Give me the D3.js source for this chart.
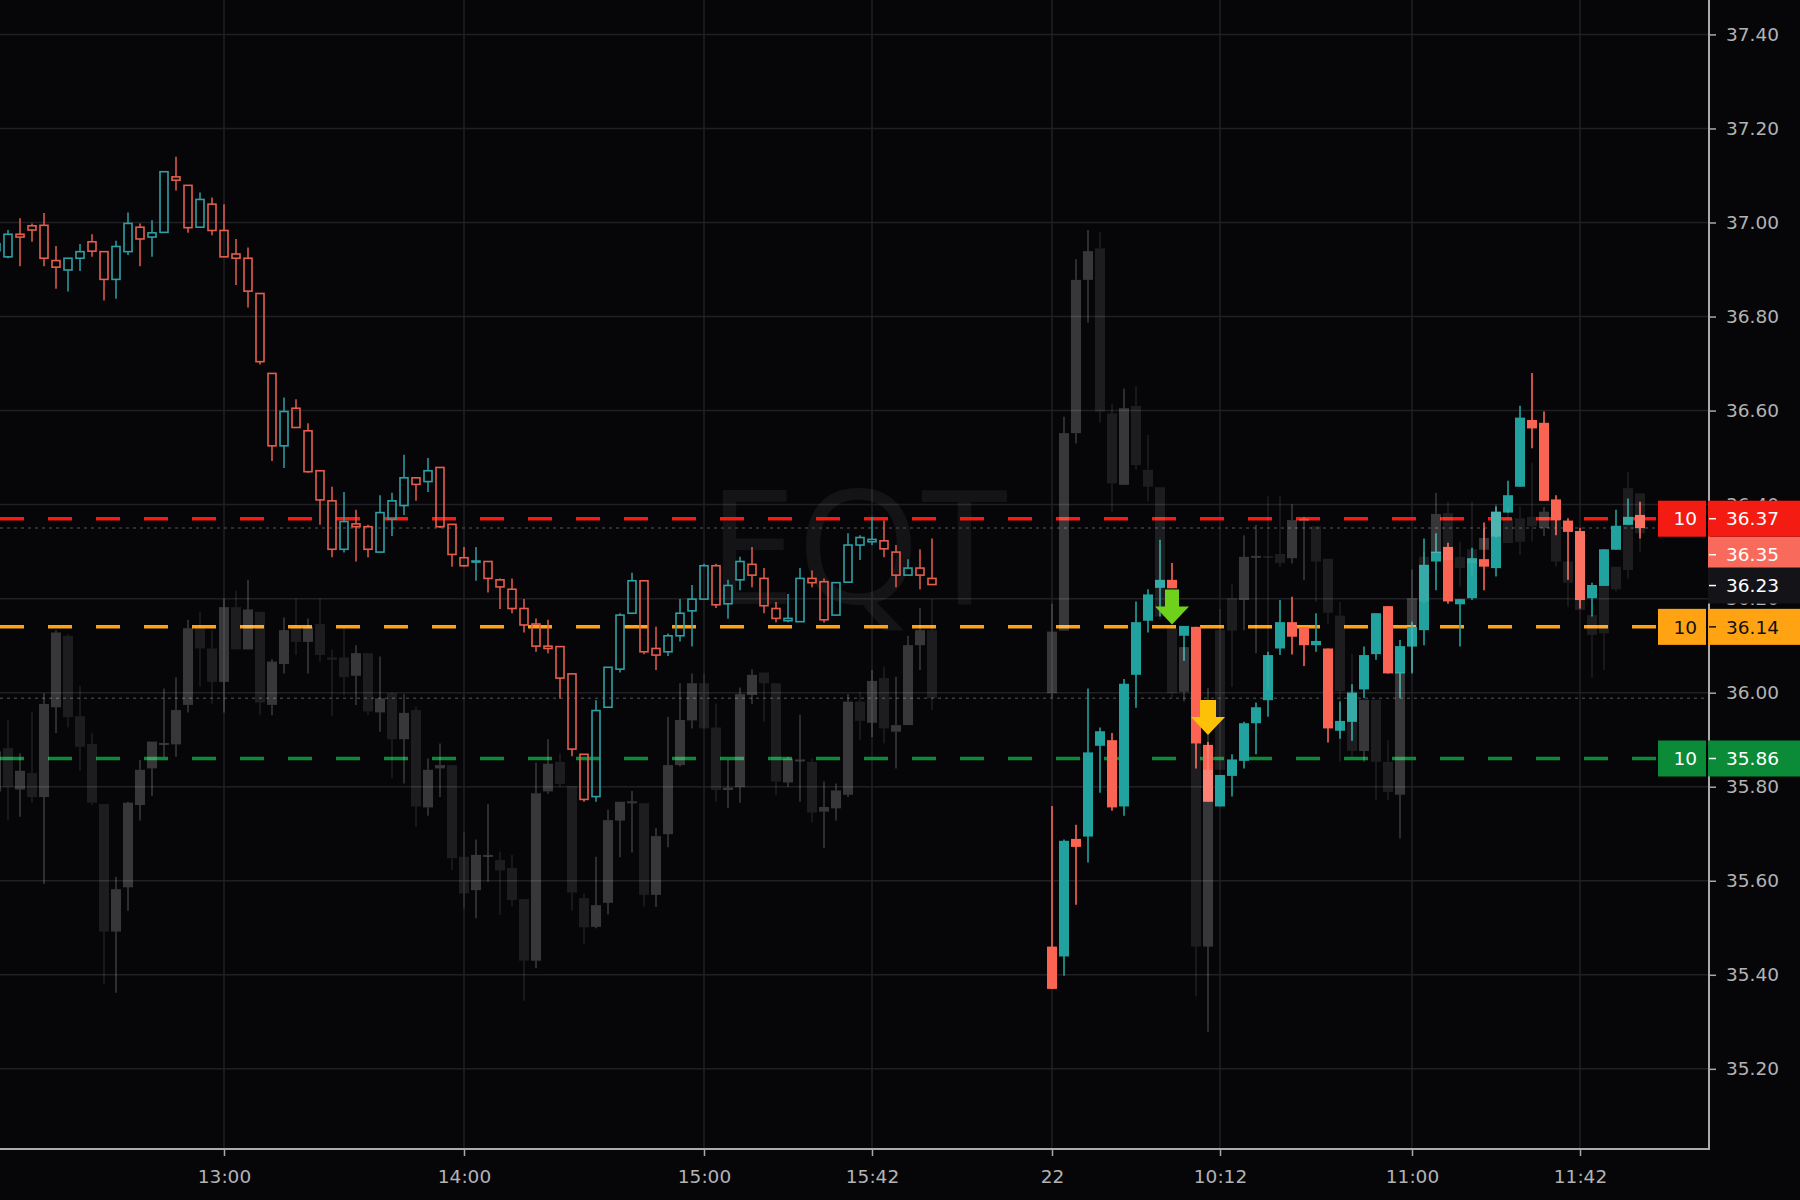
<!DOCTYPE html>
<html><head><meta charset="utf-8">
<script src="https://cdn.jsdelivr.net/npm/d3@7"></script>
<style>html,body{margin:0;padding:0;background:#060608;overflow:hidden}svg{display:block}</style>
</head><body>
<script>
// ---------------- DATA ----------------
const symbol = "EQT";
const day1Start = "12:03", day1Count = 79;   // 3-minute bars, previous session
const day2Start = "09:30", day2Count = 50;   // 3-minute bars, current session (22nd)
const sessionGapSlots = 9;

const mainOpen = [
36.94,36.927,36.975,36.993,36.994,36.919,36.899,36.924,36.959,36.938,
36.879,36.938,36.990,36.969,36.979,37.097,37.079,36.990,37.039,36.983,
36.933,36.924,36.849,36.679,36.525,36.605,36.557,36.472,36.408,36.305,
36.359,36.353,36.299,36.369,36.398,36.457,36.449,36.479,36.358,36.287,
36.278,36.279,36.240,36.220,36.179,36.146,36.099,36.098,36.040,35.869,
35.779,35.969,36.050,36.169,36.238,36.094,36.087,36.121,36.174,36.199,
36.270,36.189,36.240,36.273,36.243,36.179,36.153,36.151,36.243,36.236,
36.165,36.235,36.314,36.321,36.323,36.299,36.250,36.265,36.243,
35.460,35.439,35.689,35.694,35.887,35.899,35.758,36.038,36.153,36.223,
36.240,36.121,36.140,35.889,35.758,35.823,35.855,35.935,35.984,36.094,
36.150,36.139,36.101,36.094,35.919,35.938,36.007,36.082,36.184,36.041,
36.098,36.133,36.279,36.310,36.188,36.201,36.284,36.265,36.383,36.438,
36.580,36.574,36.411,36.366,36.344,36.201,36.227,36.304,36.357,36.378];
const mainHigh = [
36.97,36.984,37.009,36.998,37.020,36.950,36.924,36.954,36.975,36.938,
36.961,37.021,36.998,37.005,37.108,37.140,37.079,37.064,37.053,37.039,
36.965,36.947,36.849,36.679,36.628,36.624,36.573,36.472,36.438,36.427,
36.389,36.357,36.420,36.425,36.506,36.457,36.499,36.479,36.358,36.310,
36.310,36.279,36.243,36.243,36.199,36.158,36.155,36.098,36.042,35.869,
35.984,36.054,36.169,36.255,36.238,36.140,36.126,36.199,36.229,36.274,
36.274,36.240,36.289,36.310,36.265,36.193,36.210,36.265,36.260,36.243,
36.234,36.339,36.335,36.374,36.366,36.314,36.284,36.305,36.328,
35.759,35.688,35.719,36.009,35.926,35.914,36.029,36.194,36.220,36.325,
36.276,36.142,36.140,35.895,35.825,35.869,35.938,35.979,36.087,36.197,
36.204,36.139,36.169,36.094,35.981,36.018,36.098,36.169,36.184,36.112,
36.151,36.328,36.339,36.319,36.199,36.308,36.362,36.396,36.451,36.610,
36.680,36.598,36.420,36.371,36.351,36.234,36.305,36.389,36.413,36.406];
const mainLow = [
36.92,36.924,36.907,36.959,36.907,36.859,36.853,36.897,36.927,36.834,
36.838,36.931,36.907,36.927,36.979,37.068,36.978,36.990,36.973,36.927,
36.867,36.819,36.698,36.493,36.478,36.564,36.468,36.357,36.288,36.298,
36.279,36.288,36.299,36.333,36.378,36.408,36.427,36.350,36.268,36.268,
36.238,36.213,36.178,36.169,36.128,36.087,36.084,35.987,35.865,35.768,
35.768,35.969,36.043,36.169,36.082,36.048,36.078,36.109,36.098,36.199,
36.180,36.157,36.218,36.224,36.169,36.150,36.150,36.151,36.224,36.149,
36.165,36.235,36.282,36.314,36.288,36.224,36.250,36.220,36.229,
35.370,35.398,35.549,35.639,35.787,35.749,35.738,35.968,36.128,36.162,
36.222,36.068,35.839,35.768,35.758,35.779,35.839,35.869,35.949,36.080,
36.081,36.057,36.087,35.894,35.902,35.898,35.988,36.070,36.041,35.988,
36.041,36.101,36.218,36.189,36.098,36.197,36.218,36.247,36.383,36.438,
36.520,36.408,36.335,36.240,36.179,36.162,36.227,36.304,36.357,36.328];
const mainClose = [
36.955,36.975,36.969,36.984,36.924,36.905,36.924,36.938,36.939,36.879,
36.949,36.998,36.965,36.978,37.108,37.090,36.989,37.049,36.983,36.927,
36.924,36.854,36.704,36.525,36.598,36.564,36.470,36.410,36.305,36.364,
36.353,36.305,36.383,36.408,36.457,36.443,36.472,36.353,36.294,36.270,
36.280,36.243,36.225,36.179,36.144,36.099,36.094,36.031,35.880,35.773,
35.962,36.054,36.165,36.238,36.087,36.080,36.121,36.169,36.199,36.270,
36.187,36.228,36.279,36.250,36.185,36.158,36.158,36.243,36.234,36.155,
36.234,36.314,36.330,36.326,36.306,36.250,36.265,36.250,36.230,
35.370,35.685,35.672,35.873,35.918,35.756,36.019,36.150,36.209,36.240,
36.222,36.142,35.892,35.768,35.825,35.858,35.935,35.969,36.080,36.150,
36.119,36.101,36.110,35.924,35.940,36.000,36.080,36.169,36.041,36.099,
36.140,36.272,36.300,36.194,36.199,36.286,36.268,36.385,36.420,36.585,
36.562,36.408,36.367,36.342,36.197,36.229,36.305,36.355,36.374,36.350];

// overlaid comparison series (grey ghost candles)
const compOpen = [
35.79,35.882,35.794,35.829,35.778,35.969,36.121,35.950,35.891,35.763,
35.492,35.586,35.761,35.839,35.889,35.890,35.974,36.137,36.094,36.023,
36.182,36.092,36.172,35.974,36.061,36.140,36.108,36.146,36.075,36.075,
36.036,36.084,35.958,35.999,35.901,35.963,35.756,35.839,35.846,35.651,
35.580,35.652,35.644,35.627,35.561,35.430,35.790,35.853,35.801,35.563,
35.502,35.553,35.728,35.765,35.765,35.570,35.699,35.846,35.941,36.020,
35.926,35.793,35.799,35.995,36.043,36.020,35.809,35.855,35.853,35.747,
35.754,35.783,35.981,35.936,36.031,35.917,35.931,36.101,36.133,
35.999,36.132,36.552,36.878,36.945,36.594,36.442,36.610,36.474,36.437,
36.137,36.002,35.892,35.460,36.133,36.201,36.197,36.287,36.291,36.295,
36.286,36.365,36.354,36.285,36.164,36.003,35.876,35.985,35.853,35.783,
36.140,36.289,36.297,36.382,36.289,36.305,36.304,36.332,36.371,36.371,
36.374,36.350,36.367,36.279,36.343,36.165,36.227,36.268,36.435,36.424];
const compHigh = [
35.90,35.942,35.871,35.960,35.999,36.133,36.125,36.014,35.915,35.763,
35.608,35.768,35.857,35.896,36.009,36.033,36.155,36.172,36.133,36.201,
36.217,36.240,36.172,36.071,36.160,36.201,36.158,36.201,36.092,36.137,
36.101,36.084,36.077,36.002,35.997,35.970,35.860,35.892,35.846,35.704,
35.688,35.763,35.662,35.655,35.561,35.851,35.901,35.871,35.801,35.573,
35.651,35.751,35.768,35.791,35.765,35.712,35.949,36.020,36.041,36.041,
35.977,35.857,36.011,36.050,36.043,36.020,35.864,35.953,35.860,35.811,
35.807,35.997,36.002,36.048,36.055,36.034,36.121,36.180,36.199,
36.189,36.587,36.922,36.984,36.979,36.614,36.647,36.652,36.548,36.437,
36.140,36.097,35.892,36.010,36.178,36.231,36.335,36.357,36.418,36.418,
36.401,36.374,36.354,36.285,36.193,36.083,35.985,35.985,35.899,36.043,
36.262,36.300,36.425,36.406,36.321,36.406,36.350,36.400,36.393,36.396,
36.489,36.395,36.367,36.279,36.343,36.165,36.227,36.268,36.470,36.424];
const compLow = [
35.76,35.729,35.736,35.766,35.593,35.914,35.926,35.834,35.761,35.381,
35.362,35.536,35.728,35.780,35.864,35.864,35.958,36.013,35.976,35.958,
36.092,36.092,35.952,35.952,36.041,36.080,36.041,36.066,35.950,35.995,
35.974,35.952,35.917,35.818,35.807,35.715,35.738,35.778,35.623,35.541,
35.520,35.598,35.527,35.546,35.345,35.414,35.785,35.799,35.536,35.466,
35.499,35.529,35.650,35.660,35.545,35.544,35.671,35.843,35.924,35.924,
35.768,35.754,35.766,35.976,35.938,35.782,35.800,35.768,35.724,35.669,
35.728,35.778,35.899,35.906,35.892,35.839,35.931,36.048,35.963,
35.988,36.132,36.530,36.787,36.574,36.383,36.442,36.474,36.406,36.155,
35.990,35.981,35.354,35.279,35.836,36.012,36.133,36.084,36.006,36.268,
36.275,36.239,36.193,36.147,35.853,35.864,35.853,35.772,35.772,35.690,
36.043,36.190,36.297,36.282,36.226,36.247,36.304,36.330,36.318,36.293,
36.321,36.333,36.268,36.183,36.176,36.031,36.048,36.215,36.243,36.300];
const compClose = [
35.875,35.800,35.834,35.778,35.976,36.128,35.948,35.885,35.766,35.492,
35.582,35.766,35.836,35.896,35.893,35.963,36.137,36.094,36.023,36.182,
36.092,36.177,35.979,36.066,36.133,36.108,36.140,36.080,36.070,36.033,
36.084,35.960,35.988,35.901,35.957,35.758,35.836,35.846,35.648,35.573,
35.655,35.655,35.622,35.559,35.430,35.786,35.849,35.806,35.575,35.501,
35.548,35.729,35.768,35.769,35.570,35.695,35.846,35.942,36.020,35.924,
35.793,35.798,35.997,36.038,36.020,35.811,35.860,35.858,35.745,35.757,
35.792,35.981,35.940,36.025,35.924,35.931,36.101,36.133,35.988,
36.130,36.552,36.878,36.939,36.598,36.445,36.605,36.484,36.438,36.162,
35.999,36.097,35.460,35.836,35.836,36.132,36.289,36.291,36.289,36.276,
36.367,36.370,36.279,36.170,36.003,35.876,35.985,35.853,35.789,36.043,
36.201,36.194,36.380,36.282,36.265,36.275,36.329,36.385,36.318,36.321,
36.354,36.385,36.279,36.234,36.176,36.123,36.126,36.220,36.261,36.339];

// axis ticks
const yTickValues = [35.20,35.40,35.60,35.80,36.00,36.20,36.40,36.60,36.80,37.00,37.20,37.40];
const xTickLabels = ["13:00","14:00","15:00","15:42","22","10:12","11:00","11:42"];
const xTickBars   = ["1 13:00","1 14:00","1 15:00","1 15:42","2 09:30","2 10:12","2 11:00","2 11:42"];

// order lines (price, quantity)
const orderPrices = [36.37, 36.14, 35.86];
const orderQty    = [10, 10, 10];
const orderColors = ["#f41b12", "#ffa313", "#0b8a38"];
const orderText   = ["#ffffff", "#111111", "#ffffff"];
const lastPrice = 36.35, prevClose = 36.23, compPriceLine = 35.988;

// trade markers: bar key, price at arrow tip
const markerBars   = ["2 10:00", "2 10:09"];
const markerPrices = [36.145, 35.91];
const markerColors = ["#6fd11c", "#fdc208"];

// ---------------- LAYOUT ----------------
const W = 1800, H = 1200, plotR = 1709, plotB = 1149;
const FONT = "DejaVu Sans, Verdana, sans-serif";

function makeTimes(start, n){
  const [h,m] = start.split(":").map(Number); const out=[];
  for(let k=0;k<n;k++){ const t=h*60+m+3*k; out.push(String(Math.floor(t/60)).padStart(2,"0")+":"+String(t%60).padStart(2,"0")); }
  return out;
}
const bars = [];
makeTimes(day1Start, day1Count).forEach((t,k)=>bars.push({key:"1 "+t, session:1, slot:k}));
makeTimes(day2Start, day2Count).forEach((t,k)=>bars.push({key:"2 "+t, session:2, slot:day1Count+sessionGapSlots+k}));
bars.forEach((b,i)=>{ b.o=mainOpen[i]; b.h=mainHigh[i]; b.l=mainLow[i]; b.c=mainClose[i];
  b.co=compOpen[i]; b.ch=compHigh[i]; b.cl=compLow[i]; b.cc=compClose[i]; });
const slotOf = key => bars.find(b=>b.key===key).slot;

const x = d3.scaleLinear().domain([0, 142.75]).range([-4, plotR]);
const y = d3.scaleLinear().domain([35.0295, 37.4732]).range([plotB, 0]);

const svg = d3.select("body").append("svg").attr("width",W).attr("height",H);
svg.append("rect").attr("width",W).attr("height",H).attr("fill","#060608");

// grid
const grid = svg.append("g");
grid.selectAll(".hg").data(yTickValues).enter().append("line")
  .attr("x1",0).attr("x2",plotR).attr("y1",d=>y(d)).attr("y2",d=>y(d))
  .attr("stroke","#202024").attr("stroke-width",1.5);
grid.selectAll(".vg").data(xTickBars).enter().append("line")
  .attr("x1",d=>x(slotOf(d))).attr("x2",d=>x(slotOf(d))).attr("y1",0).attr("y2",plotB)
  .attr("stroke","#202024").attr("stroke-width",1.5);

// watermark
svg.append("text").text(symbol).attr("x",858).attr("y",604).attr("text-anchor","middle")
  .attr("font-family","Open Sans, sans-serif").attr("font-size",160)
  .attr("fill","rgba(255,255,255,0.06)");

// price lines
svg.selectAll(".ol").data(orderPrices).enter().append("line")
  .attr("x1",0).attr("x2",1656).attr("y1",d=>y(d)).attr("y2",d=>y(d))
  .attr("stroke",(d,i)=>orderColors[i]).attr("stroke-width",3.5).attr("stroke-dasharray","24,24");
svg.selectAll(".dl").data([lastPrice, compPriceLine]).enter().append("line")
  .attr("x1",0).attr("x2",plotR).attr("y1",d=>y(d)).attr("y2",d=>y(d))
  .attr("stroke","#3b3b40").attr("stroke-width",1.5).attr("stroke-dasharray","3,4");

// main candles
const UP1="#2f9fa4", DN1="#e55e4d", UP2="#22a29e", DN2="#fb6453";
const main = svg.append("g");
bars.forEach(b=>{
  const cx = x(b.slot), up = b.c >= b.o;
  const top = y(Math.max(b.o,b.c)), bot = y(Math.min(b.o,b.c));
  if(b.session===1){
    const col = up?UP1:DN1;
    main.append("line").attr("x1",cx).attr("x2",cx).attr("y1",y(b.h)).attr("y2",top).attr("stroke",col).attr("stroke-width",1.5);
    main.append("line").attr("x1",cx).attr("x2",cx).attr("y1",bot).attr("y2",y(b.l)).attr("stroke",col).attr("stroke-width",1.5);
    main.append("rect").attr("x",cx-4).attr("width",8).attr("y",top).attr("height",Math.max(1,bot-top))
      .attr("fill","none").attr("stroke",col).attr("stroke-width",1.6);
  } else {
    const col = up?UP2:DN2;
    main.append("line").attr("x1",cx).attr("x2",cx).attr("y1",y(b.h)).attr("y2",y(b.l)).attr("stroke",col).attr("stroke-width",1.6);
    main.append("rect").attr("x",cx-5).attr("width",10).attr("y",top).attr("height",Math.max(2,bot-top)).attr("fill",col);
  }
});

// ghost comparison candles on top
const ghost = svg.append("g");
bars.forEach(b=>{
  const cx = x(b.slot), up = b.cc >= b.co;
  const col = up ? "rgba(255,255,255,0.2)" : "rgba(255,255,255,0.095)";
  const top = y(Math.max(b.co,b.cc)), bot = y(Math.min(b.co,b.cc));
  ghost.append("line").attr("x1",cx).attr("x2",cx).attr("y1",y(b.ch)).attr("y2",top).attr("stroke",col).attr("stroke-width",1.6);
  ghost.append("line").attr("x1",cx).attr("x2",cx).attr("y1",bot).attr("y2",y(b.cl)).attr("stroke",col).attr("stroke-width",1.6);
  ghost.append("rect").attr("x",cx-5).attr("width",10).attr("y",top).attr("height",Math.max(2,bot-top)).attr("fill",col);
});

// markers
markerBars.forEach((k,i)=>{
  const cx = x(slotOf(k)), ty = y(markerPrices[i]);
  const sw = i===0?7:8;
  svg.append("path").attr("transform",`translate(${cx},${ty})`)
    .attr("d",`M${-sw},-35 L${sw},-35 L${sw},-18 L17,-18 L0,0 L-17,-18 L${-sw},-18 Z`)
    .attr("fill",markerColors[i]);
});

// axes
const yAxis = svg.append("g").attr("transform",`translate(${plotR},0)`)
  .call(d3.axisRight(y).tickValues(yTickValues).tickFormat(d3.format(".2f")).tickSize(7).tickPadding(10));
const xAxis = svg.append("g").attr("transform",`translate(0,${plotB})`)
  .call(d3.axisBottom(x).tickValues(xTickBars.map(slotOf)).tickFormat((d,i)=>xTickLabels[i]).tickSize(7).tickPadding(14));
[yAxis,xAxis].forEach(a=>{
  a.select(".domain").remove();
  a.selectAll("line").attr("stroke","#a9a9a9").attr("stroke-width",1.5);
  a.selectAll("text").attr("fill","#b3b3b3").attr("font-family",FONT).attr("font-size",18.5);
});
svg.append("line").attr("x1",plotR).attr("x2",plotR).attr("y1",0).attr("y2",plotB+1).attr("stroke","#ababab").attr("stroke-width",2);
svg.append("line").attr("x1",0).attr("x2",plotR+1).attr("y1",plotB).attr("y2",plotB).attr("stroke","#ababab").attr("stroke-width",2);

// price labels
const BH = 36;
function priceBox(v, cy, fill, txt){
  svg.append("rect").attr("x",plotR-1).attr("y",cy-BH/2).attr("width",W-plotR+1).attr("height",BH).attr("fill",fill);
  svg.append("line").attr("x1",plotR).attr("x2",plotR+7).attr("y1",cy).attr("y2",cy).attr("stroke",txt).attr("stroke-width",1.5);
  svg.append("text").text(d3.format(".2f")(v)).attr("x",1726).attr("y",cy).attr("dy","0.36em")
    .attr("fill",txt).attr("font-family",FONT).attr("font-size",18.5);
}
function qtyBox(q, cy, fill, txt){
  svg.append("rect").attr("x",1658).attr("y",cy-BH/2).attr("width",48).attr("height",BH).attr("fill",fill);
  svg.append("text").text(q).attr("x",1697).attr("y",cy).attr("dy","0.36em").attr("text-anchor","end")
    .attr("fill",txt).attr("font-family",FONT).attr("font-size",18.5);
}
const redY = y(orderPrices[0]);
priceBox(lastPrice, redY + BH, "#f86b5c", "#ffffff");
priceBox(prevClose, y(prevClose)+1, "#141318", "#ffffff");
orderPrices.forEach((p,i)=>{ qtyBox(orderQty[i], y(p), orderColors[i], orderText[i]); priceBox(p, y(p), orderColors[i], orderText[i]); });
</script>
</body></html>
